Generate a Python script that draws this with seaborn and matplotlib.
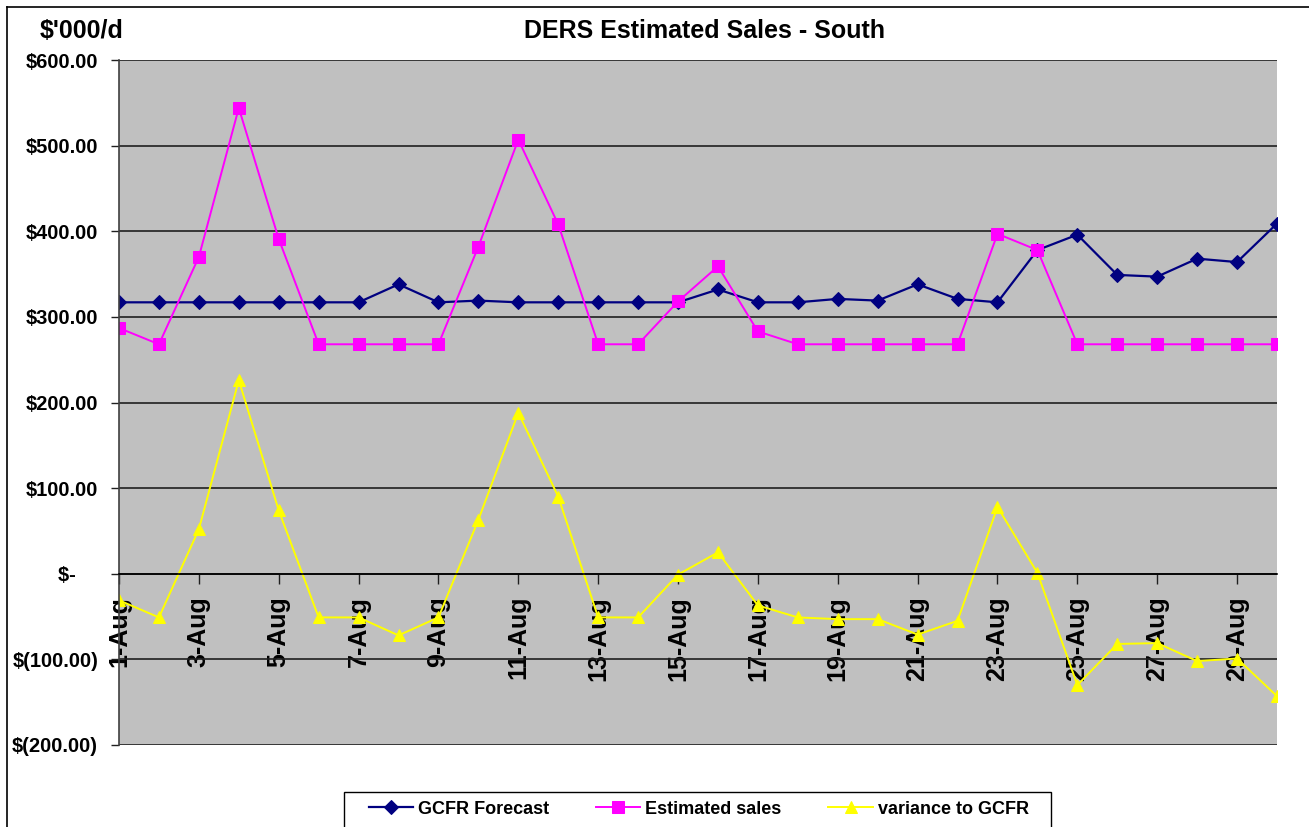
import matplotlib
matplotlib.use('Agg')
import matplotlib.pyplot as plt
import seaborn as sns
import pandas as pd
from matplotlib.lines import Line2D
from matplotlib.patches import Rectangle

# data ($'000 per day)
days = list(range(1, 31))
gcfr_forecast = [317, 317, 317, 317, 317, 317, 317, 338, 317, 319,
                 317, 317, 317, 317, 317, 332, 317, 317, 321, 319,
                 338, 321, 317, 378, 396, 349, 347, 368, 364, 409]
estimated_sales = [287, 268, 370, 544, 391, 268, 268, 268, 268, 382,
                   507, 408, 268, 268, 318, 359, 283, 268, 268, 268,
                   268, 268, 397, 378, 268, 268, 268, 268, 268, 268]
variance = [-31, -51, 52, 226, 74, -51, -51, -72, -51, 63,
            188, 90, -51, -51, -1, 25, -37, -51, -53, -53,
            -71, -55, 78, 1, -130, -82, -81, -102, -99, -143]

x_ticks = [1, 3, 5, 7, 9, 11, 13, 15, 17, 19, 21, 23, 25, 27, 29]
x_labels = [f'{d}-Aug' for d in x_ticks]
y_ticks = [-200, -100, 0, 100, 200, 300, 400, 500, 600]
y_labels = ['$(200.00)', '$(100.00)', '$-    ', '$100.00', '$200.00',
            '$300.00', '$400.00', '$500.00', '$600.00']

df = pd.DataFrame({'day': days, 'gcfr': gcfr_forecast,
                   'sales': estimated_sales, 'var': variance})

plt.rcParams['font.family'] = ['Liberation Sans', 'DejaVu Sans']
plt.rcParams['font.weight'] = 'bold'

W, H = 1309, 827
fig = plt.figure(figsize=(W / 100, H / 100), dpi=100, facecolor='white')
ax = fig.add_axes([119 / W, 1 - 745 / H, (1277 - 119) / W, (745 - 60) / H])
ax.set_facecolor('#C0C0C0')
ax.set_axisbelow(True)

sns.lineplot(data=df, x='day', y='gcfr', ax=ax, color='#000080', linewidth=1.6,
             marker='D', markersize=7, markeredgecolor='#000080',
             label='GCFR Forecast', legend=False)
sns.lineplot(data=df, x='day', y='sales', ax=ax, color='#FF00FF', linewidth=1.4,
             marker='s', markersize=8, markeredgecolor='#FF00FF',
             label='Estimated sales', legend=False)
sns.lineplot(data=df, x='day', y='var', ax=ax, color='#FFFF00', linewidth=1.4,
             marker='^', markersize=9, markeredgecolor='#FFFF00',
             label='variance to GCFR', legend=False)

# spines first: moving the bottom spine resets the tick settings
for s in ['top', 'right']:
    ax.spines[s].set_visible(False)
ax.spines['bottom'].set_position(('data', 0))
ax.spines['bottom'].set_color('#000000')
ax.spines['bottom'].set_linewidth(1.2)
ax.spines['left'].set_color('#404040')
ax.spines['left'].set_linewidth(1.2)

ax.set_xlim(1, 30)
ax.set_ylim(-200, 600)
ax.set_xlabel('')
ax.set_ylabel('')

ax.set_yticks(y_ticks)
ax.set_yticklabels(y_labels, fontsize=14.5, fontweight='bold')
ax.set_xticks(x_ticks)
ax.set_xticklabels(x_labels, fontsize=18, fontweight='bold', rotation=90)
ax.tick_params(axis='y', direction='out', length=6, width=1, pad=9, color='#202020')
ax.tick_params(axis='x', direction='out', length=7, width=1, pad=9, color='#202020')

ax.yaxis.grid(True, color='#202020', linewidth=1.2)
ax.xaxis.grid(False)

# titles
fig.text(705 / W, 1 - 31 / H, 'DERS Estimated Sales - South', ha='center', va='center',
         fontsize=18, fontweight='bold')
fig.text(82 / W, 1 - 31 / H, "$'000/d", ha='center', va='center',
         fontsize=18, fontweight='bold')

# outer chart border (left and top edges visible)
fig.add_artist(Line2D([7 / W, 7 / W], [0, 1 - 7 / H], transform=fig.transFigure,
                      color='black', linewidth=1.2))
fig.add_artist(Line2D([7 / W, 1], [1 - 7 / H, 1 - 7 / H], transform=fig.transFigure,
                      color='black', linewidth=1.2))

# legend box drawn on its own, cut by the bottom edge like in the reference
fig.add_artist(Rectangle((344 / W, 1 - 850 / H), (1051 - 344) / W, (850 - 792) / H,
                         transform=fig.transFigure, facecolor='white',
                         edgecolor='black', linewidth=1.0))
handles, labels = ax.get_legend_handles_labels()
leg = fig.legend(handles, labels, loc='center left', ncol=3,
                 bbox_to_anchor=(369 / W, 1 - 809 / H), bbox_transform=fig.transFigure,
                 borderaxespad=0, borderpad=0, frameon=False, handlelength=2.44,
                 handletextpad=0.28, columnspacing=2.6,
                 prop={'size': 13, 'weight': 'bold'})
leg.set_zorder(5)

fig.savefig('out.png', dpi=100, facecolor='white')
